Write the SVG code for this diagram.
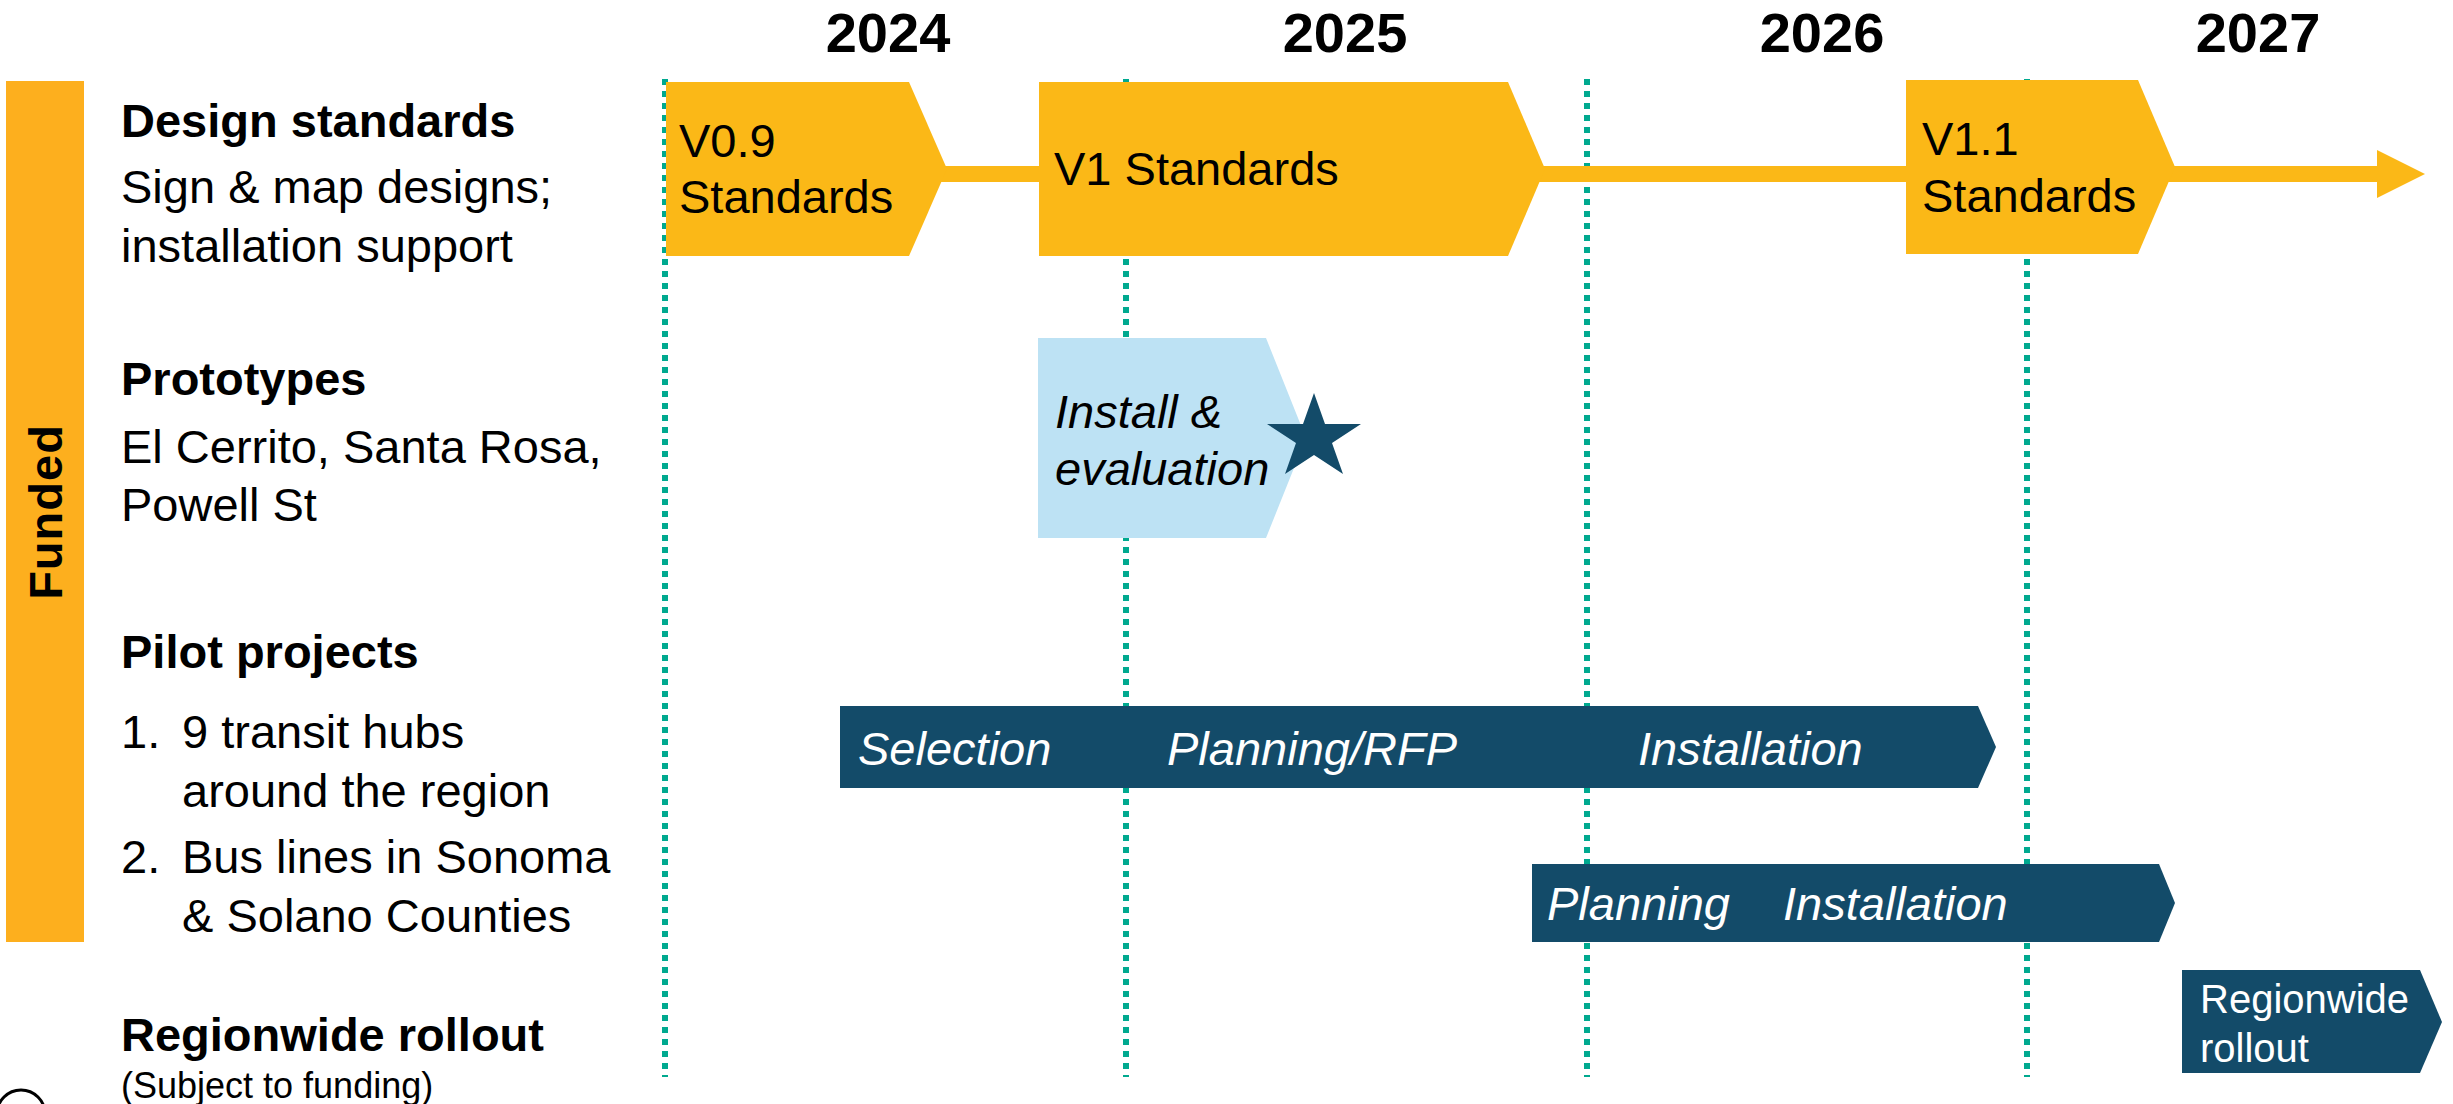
<svg xmlns="http://www.w3.org/2000/svg" width="2453" height="1104" viewBox="0 0 2453 1104">
<style>
text{font-family:"Liberation Sans",Arial,sans-serif;}
.yr{font-size:56px;font-weight:bold;fill:#000;text-anchor:middle;}
.hd{font-size:47px;font-weight:bold;fill:#000;}
.tx{font-size:47px;fill:#000;}
.bt{font-size:47px;fill:#000;}
.it{font-size:47px;font-style:italic;}
.wt{fill:#fff;}
.gold{fill:#FBB817;}
.navy{fill:#134B69;}
.grid{stroke:#00A98F;stroke-width:6;stroke-dasharray:6 6;fill:none;}
</style>
<rect width="2453" height="1104" fill="#fff"/>
<g id="years">
<text class="yr" x="888" y="52">2024</text>
<text class="yr" x="1345" y="52">2025</text>
<text class="yr" x="1822" y="52">2026</text>
<text class="yr" x="2258" y="52">2027</text>
</g>
<g id="funded-bar">
<rect x="6" y="81" width="78" height="861" fill="#FDAF1E"/>
<text transform="translate(62 512) rotate(-90)" text-anchor="middle" style="font-size:47px;font-weight:bold;letter-spacing:1px">Funded</text>
</g>
<g id="labels">
<text class="hd" x="121" y="137">Design standards</text>
<text class="tx" x="121" y="203">Sign &amp; map designs;</text>
<text class="tx" x="121" y="262">installation support</text>
<text class="hd" x="121" y="395">Prototypes</text>
<text class="tx" x="121" y="463">El Cerrito, Santa Rosa,</text>
<text class="tx" x="121" y="521">Powell St</text>
<text class="hd" x="121" y="668">Pilot projects</text>
<text class="tx" x="121" y="748">1.</text>
<text class="tx" x="182" y="748">9 transit hubs</text>
<text class="tx" x="182" y="807">around the region</text>
<text class="tx" x="121" y="873">2.</text>
<text class="tx" x="182" y="873">Bus lines in Sonoma</text>
<text class="tx" x="182" y="932">&amp; Solano Counties</text>
<text class="hd" x="121" y="1051">Regionwide rollout</text>
<text x="121" y="1098" style="font-size:36px">(Subject to funding)</text>
</g>
<circle cx="21" cy="1114" r="24" fill="none" stroke="#000" stroke-width="3"/>
<g id="connectors">
<line class="grid" x1="665" y1="79" x2="665" y2="1077"/>
<line class="grid" x1="1126" y1="79" x2="1126" y2="1077"/>
<line class="grid" x1="1587" y1="79" x2="1587" y2="1077"/>
<line class="grid" x1="2027" y1="79" x2="2027" y2="1077"/>
<polygon class="gold" points="940,166 2377,166 2377,150 2425,174 2377,198 2377,182 940,182"/>
</g>
<g id="v09">
<polygon class="gold" points="666,82 909,82 947,169 909,256 666,256"/>
<text class="bt" x="679" y="157">V0.9</text>
<text class="bt" x="679" y="213">Standards</text>
</g>
<g id="v1">
<polygon class="gold" points="1039,82 1508,82 1545,169 1508,256 1039,256"/>
<text class="bt" x="1054" y="185">V1 Standards</text>
</g>
<g id="v11">
<polygon class="gold" points="1906,80 2138,80 2175,167 2138,254 1906,254"/>
<text class="bt" x="1922" y="155">V1.1</text>
<text class="bt" x="1922" y="212">Standards</text>
</g>
<g id="prototype">
<polygon fill="#BDE2F4" points="1038,338 1266,338 1306,438 1266,538 1038,538"/>
<text class="it" x="1055" y="428" fill="#000">Install &amp;</text>
<text class="it" x="1055" y="485" fill="#000">evaluation</text>
<polygon class="navy" points="1314,393 1325,424 1361,424 1332,443 1343,474 1314,455 1285,474 1296,443 1267,424 1303,424"/>
</g>
<g id="pilot-hubs">
<polygon class="navy" points="840,706 1978,706 1996,747 1978,788 840,788"/>
<text class="it wt" x="858" y="765">Selection</text>
<text class="it wt" x="1167" y="765">Planning/RFP</text>
<text class="it wt" x="1638" y="765">Installation</text>
</g>
<g id="pilot-bus">
<polygon class="navy" points="1532,864 2159,864 2175,903 2159,942 1532,942"/>
<text class="it wt" x="1547" y="920">Planning</text>
<text class="it wt" x="1783" y="920">Installation</text>
</g>
<g id="rollout">
<polygon class="navy" points="2182,970 2420,970 2442,1022 2420,1073 2182,1073"/>
<text class="wt" x="2200" y="1013" style="font-size:40px">Regionwide</text>
<text class="wt" x="2200" y="1062" style="font-size:40px">rollout</text>
</g>
</svg>
